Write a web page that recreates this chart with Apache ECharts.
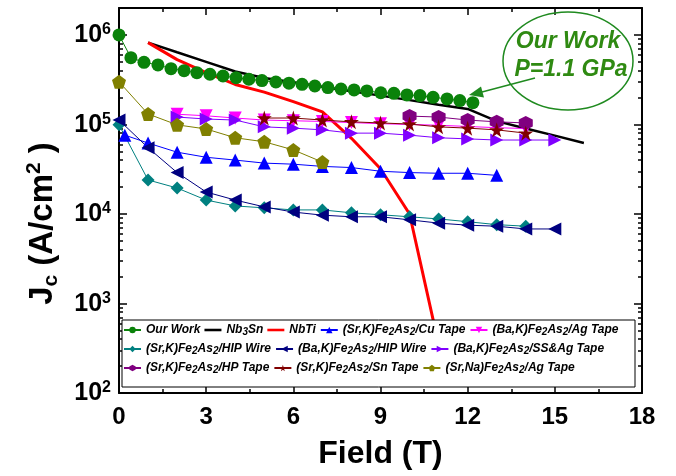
<!DOCTYPE html>
<html>
<head>
<meta charset="utf-8">
<script src="https://cdn.jsdelivr.net/npm/echarts@6/dist/echarts.min.js"></script>
<style>
  html, body { margin: 0; padding: 0; background: #fff; }
  #jc_chart { width: 676px; height: 476px; }
</style>
</head>
<body>
<div id="jc_chart"></div>
<script>
// values (field in T, Jc in A/cm^2)
const ourWorkField = [0, 0.41, 0.86, 1.34, 1.79, 2.24, 2.68, 3.13, 3.58, 4.03, 4.47, 4.92, 5.40, 5.85, 6.30, 6.74, 7.19, 7.64, 8.09, 8.53, 9.01, 9.46, 9.91, 10.36, 10.81, 11.29, 11.73, 12.18];
const ourWorkJc = [1.0e6, 5.57e5, 4.95e5, 4.62e5, 4.20e5, 3.99e5, 3.79e5, 3.64e5, 3.48e5, 3.33e5, 3.20e5, 3.09e5, 2.98e5, 2.89e5, 2.81e5, 2.69e5, 2.58e5, 2.49e5, 2.43e5, 2.37e5, 2.26e5, 2.23e5, 2.14e5, 2.10e5, 2.01e5, 1.93e5, 1.85e5, 1.75e5];

const nb3snField = [1, 2, 3, 4, 5, 6, 7, 8, 9, 10, 11, 12, 13, 14, 15, 16];
const nb3snJc = [8.2e5, 6.4e5, 5.0e5, 3.9e5, 3.3e5, 2.97e5, 2.64e5, 2.35e5, 2.1e5, 1.87e5, 1.66e5, 1.49e5, 1.09e5, 9.0e4, 7.5e4, 6.2e4];

const nbtiField = [1, 2, 3, 4, 5, 6, 7, 8, 9, 10, 11];
const nbtiJc = [8.2e5, 5.3e5, 3.8e5, 2.8e5, 2.3e5, 1.8e5, 1.38e5, 7.0e4, 3.2e4, 1.0e4, 3.5e2];

const cuTapeField = [0.2, 1, 2, 3, 4, 5, 6, 7, 8, 9, 10, 11, 12, 13];
const cuTapeJc = [7.6e4, 6.2e4, 4.9e4, 4.3e4, 4.0e4, 3.7e4, 3.6e4, 3.4e4, 3.3e4, 3.0e4, 2.9e4, 2.85e4, 2.85e4, 2.7e4];

const agTapeField = [2, 3, 4, 5, 6, 7, 8, 9, 10, 11, 12, 13, 14];
const agTapeJc = [1.3e5, 1.25e5, 1.18e5, 1.12e5, 1.1e5, 1.08e5, 1.05e5, 1.02e5, 1.0e5, 9.8e4, 9.5e4, 9.2e4, 9.0e4];

const srkHipField = [0, 1, 2, 3, 4, 5, 6, 7, 8, 9, 10, 11, 12, 13, 14];
const srkHipJc = [9.9e4, 2.4e4, 1.95e4, 1.43e4, 1.23e4, 1.17e4, 1.11e4, 1.11e4, 1.03e4, 9.8e3, 9.3e3, 8.8e3, 8.2e3, 7.6e3, 7.3e3];

const bakHipField = [0, 1, 2, 3, 4, 5, 6, 7, 8, 9, 10, 11, 12, 13, 14, 15];
const bakHipJc = [1.12e5, 5.5e4, 2.9e4, 1.76e4, 1.43e4, 1.2e4, 1.05e4, 9.7e3, 9.3e3, 9.3e3, 8.6e3, 7.9e3, 7.5e3, 7.3e3, 6.8e3, 6.8e3];

const ssAgField = [2, 3, 4, 5, 6, 7, 8, 9, 10, 11, 12, 13, 14, 15];
const ssAgJc = [1.21e5, 1.15e5, 1.12e5, 9.4e4, 9.1e4, 8.7e4, 8.0e4, 8.0e4, 7.6e4, 7.1e4, 6.9e4, 6.7e4, 6.7e4, 6.7e4];

const hpTapeField = [10, 11, 12, 13, 14];
const hpTapeJc = [1.24e5, 1.21e5, 1.12e5, 1.07e5, 1.04e5];

const snTapeField = [5, 6, 7, 8, 9, 10, 11, 12, 13, 14];
const snTapeJc = [1.18e5, 1.18e5, 1.12e5, 1.07e5, 1.04e5, 1.01e5, 9.4e4, 9.1e4, 8.7e4, 8.0e4];

const srnaField = [0, 1, 2, 3, 4, 5, 6, 7];
const srnaJc = [3.0e5, 1.31e5, 9.9e4, 8.9e4, 7.1e4, 6.4e4, 5.2e4, 3.8e4];

const xTicks = [0, 3, 6, 9, 12, 15, 18];
const yDecades = [1e2, 1e3, 1e4, 1e5, 1e6];
const yMinor = [2e2, 3e2, 4e2, 5e2, 6e2, 7e2, 8e2, 9e2, 2e3, 3e3, 4e3, 5e3, 6e3, 7e3, 8e3, 9e3,
  2e4, 3e4, 4e4, 5e4, 6e4, 7e4, 8e4, 9e4, 2e5, 3e5, 4e5, 5e5, 6e5, 7e5, 8e5, 9e5, 2e6];

const legendRows = [
  ['Our Work', 'Nb3Sn', 'NbTi', '(Sr,K)Fe2As2/Cu Tape', '(Ba,K)Fe2As2/Ag Tape'],
  ['(Sr,K)Fe2As2/HIP Wire', '(Ba,K)Fe2As2/HIP Wire', '(Ba,K)Fe2As2/SS&Ag Tape'],
  ['(Sr,K)Fe2As2/HP Tape', '(Sr,K)Fe2As2/Sn Tape', '(Sr,Na)Fe2As2/Ag Tape']
];

window.addEventListener('resize', function() {
  jc_chart.resize();
});

var jc_chart = echarts.init(document.getElementById('jc_chart'));

const FONT = 'Liberation Sans, Arial, sans-serif';
const star = 'path://M50,0 L61,35 L98,35 L68,57 L79,91 L50,70 L21,91 L32,57 L2,35 L39,35 Z';
const pentagon = 'path://M50,0 L98,36 L79,95 L21,95 L2,36 Z';
const hexagon = 'path://M50,0 L93,25 L93,75 L50,100 L7,75 L7,25 Z';

const pairs = (xs, ys) => xs.map((x, i) => [x, ys[i]]);

// name, x, y, colour, symbol, size, rotate, line width
const seriesDefs = [
  ['Nb3Sn', nb3snField, nb3snJc, '#000000', 'none', 0, 0, 2.5],
  ['NbTi', nbtiField, nbtiJc, '#ff0000', 'none', 0, 0, 3],
  ['Our Work', ourWorkField, ourWorkJc, '#0a820a', 'circle', 13, 0, 1],
  ['(Sr,K)Fe2As2/Cu Tape', cuTapeField, cuTapeJc, '#0000ff', 'triangle', 13, 0, 1],
  ['(Ba,K)Fe2As2/Ag Tape', agTapeField, agTapeJc, '#ff00ff', 'triangle', 13, 180, 1],
  ['(Sr,K)Fe2As2/HIP Wire', srkHipField, srkHipJc, '#008080', 'diamond', 13, 0, 1],
  ['(Ba,K)Fe2As2/HIP Wire', bakHipField, bakHipJc, '#000080', 'triangle', 13, 90, 1],
  ['(Ba,K)Fe2As2/SS&Ag Tape', ssAgField, ssAgJc, '#8000ff', 'triangle', 13, -90, 1],
  ['(Sr,K)Fe2As2/HP Tape', hpTapeField, hpTapeJc, '#800080', hexagon, 14, 0, 1],
  ['(Sr,K)Fe2As2/Sn Tape', snTapeField, snTapeJc, '#800000', star, 15, 0, 1],
  ['(Sr,Na)Fe2As2/Ag Tape', srnaField, srnaJc, '#808000', pentagon, 14, 0, 1]
];

const series = seriesDefs.map(d => ({
  name: d[0],
  type: 'line',
  data: pairs(d[1], d[2]),
  symbol: d[4],
  symbolSize: d[5],
  symbolRotate: d[6],
  color: d[3],
  lineStyle: { color: d[3], width: d[7] },
  itemStyle: { color: d[3] },
  z: d[0] === 'Our Work' ? 3 : 2,
  animation: false
}));

// subscripts for the chemical formulas in the legend
const legendLabel = (name) => name.replace(/Fe2As2/g, 'Fe{s|2}As{s|2}').replace('Nb3Sn', 'Nb{s|3}Sn');

const legendText = {
  fontFamily: FONT, fontSize: 12, fontWeight: 'bold', fontStyle: 'italic', color: '#000', lineHeight: 14,
  rich: {
    s: { fontFamily: FONT, fontSize: 10, fontWeight: 'bold', fontStyle: 'italic', color: '#000', verticalAlign: 'bottom', lineHeight: 14 }
  }
};

const legends = legendRows.map((row, i) => ({
  data: row.map(n => (n === 'Nb3Sn' || n === 'NbTi') ? { name: n, icon: 'path://M0,0H20V3H0Z' } : n),
  left: 123,
  top: 323 + i * 19,
  padding: 0,
  itemWidth: 17,
  itemHeight: 8,
  itemGap: 4,
  selectedMode: false,
  z: 120,
  formatter: legendLabel,
  textStyle: legendText
}));

const axisLineStyle = { show: true, lineStyle: { color: '#000', width: 2 } };

const option = {
  backgroundColor: '#fff',
  animation: false,
  grid: { left: 119, right: 34, top: 8, bottom: 83, containLabel: false },
  legend: legends,
  xAxis: [
    {
      type: 'value', min: 0, max: 18, interval: 3, position: 'bottom',
      axisLine: axisLineStyle,
      axisTick: { inside: true, length: 7, lineStyle: { color: '#000', width: 1.5 } },
      minorTick: { show: true, splitNumber: 2, length: 4, lineStyle: { color: '#000', width: 1.5 } },
      splitLine: { show: false },
      axisLabel: {
        margin: 12, color: '#000', fontFamily: FONT, fontSize: 24, fontWeight: 'bold',
        customValues: xTicks
      },
      name: 'Field (T)', nameLocation: 'middle', nameGap: 45,
      nameTextStyle: { fontFamily: FONT, fontSize: 32, fontWeight: 'bold', color: '#000' }
    },
    {
      type: 'value', min: 0, max: 18, interval: 3, position: 'top',
      axisLine: axisLineStyle,
      axisTick: { inside: true, length: 7, lineStyle: { color: '#000', width: 1.5 } },
      minorTick: { show: true, splitNumber: 2, length: 4, lineStyle: { color: '#000', width: 1.5 } },
      splitLine: { show: false },
      axisLabel: { show: false }
    }
  ],
  yAxis: [
    {
      type: 'log', logBase: 10, min: 100, max: 2e6, position: 'left',
      axisLine: axisLineStyle,
      axisTick: { inside: true, length: 8, customValues: yDecades, lineStyle: { color: '#000', width: 1.5 } },
      splitLine: { show: false },
      axisLabel: {
        margin: 8, customValues: yDecades,
        formatter: v => '{b|10}{e|' + Math.round(Math.log10(v)) + '}',
        rich: {
          b: { fontFamily: FONT, fontSize: 25, fontWeight: 'bold', color: '#000', lineHeight: 26, verticalAlign: 'bottom' },
          e: { fontFamily: FONT, fontSize: 16, fontWeight: 'bold', color: '#000', lineHeight: 17, verticalAlign: 'top' }
        }
      },
      name: '{j|J}{c|c}{t| (A/cm}{u|2}{t| )}', nameLocation: 'middle', nameGap: 57,
      nameTextStyle: {
        padding: [0, 46, 0, 0],
        rich: {
          j: { fontFamily: FONT, fontSize: 33, fontWeight: 'bold', color: '#000', lineHeight: 38, verticalAlign: 'middle' },
          c: { fontFamily: FONT, fontSize: 21, fontWeight: 'bold', color: '#000', lineHeight: 21, verticalAlign: 'bottom' },
          t: { fontFamily: FONT, fontSize: 33, fontWeight: 'bold', color: '#000', lineHeight: 38, verticalAlign: 'middle' },
          u: { fontFamily: FONT, fontSize: 21, fontWeight: 'bold', color: '#000', lineHeight: 21, verticalAlign: 'top' }
        }
      }
    },
    {
      type: 'log', logBase: 10, min: 100, max: 2e6, position: 'left',
      axisLine: { show: false },
      axisTick: { inside: true, length: 4, customValues: yMinor, lineStyle: { color: '#000', width: 1.5 } },
      splitLine: { show: false },
      axisLabel: { show: false }
    },
    {
      type: 'log', logBase: 10, min: 100, max: 2e6, position: 'right',
      axisLine: axisLineStyle,
      axisTick: { inside: true, length: 8, customValues: yDecades, lineStyle: { color: '#000', width: 1.5 } },
      splitLine: { show: false },
      axisLabel: { show: false }
    },
    {
      type: 'log', logBase: 10, min: 100, max: 2e6, position: 'right',
      axisLine: { show: false },
      axisTick: { inside: true, length: 4, customValues: yMinor, lineStyle: { color: '#000', width: 1.5 } },
      splitLine: { show: false },
      axisLabel: { show: false }
    }
  ],
  graphic: [
    // legend frame
    {
      type: 'rect', z: 100,
      shape: { x: 122, y: 320, width: 513, height: 67 },
      style: { fill: '#fff', stroke: '#000', lineWidth: 1 }
    },
    // "Our Work" call-out
    {
      type: 'ellipse', z: 100,
      shape: { cx: 568, cy: 61, rx: 65, ry: 49 },
      style: { fill: 'none', stroke: '#1f8a1f', lineWidth: 1.5 }
    },
    {
      type: 'text', z: 100, x: 568, y: 42,
      style: { text: 'Our Work', fill: '#2f8a12', font: 'italic bold 23px ' + FONT, align: 'center', verticalAlign: 'middle' }
    },
    {
      type: 'text', z: 100, x: 571, y: 70,
      style: { text: 'P=1.1 GPa', fill: '#2f8a12', font: 'italic bold 23px ' + FONT, align: 'center', verticalAlign: 'middle' }
    },
    {
      type: 'line', z: 100,
      shape: { x1: 535, y1: 78, x2: 482, y2: 92 },
      style: { stroke: '#1f8a1f', lineWidth: 1.5 }
    },
    {
      type: 'polygon', z: 100,
      shape: { points: [[469, 95], [484, 97.5], [481, 86.5]] },
      style: { fill: '#1f8a1f' }
    }
  ],
  series: series
};

jc_chart.setOption(option);
</script>
</body>
</html>
